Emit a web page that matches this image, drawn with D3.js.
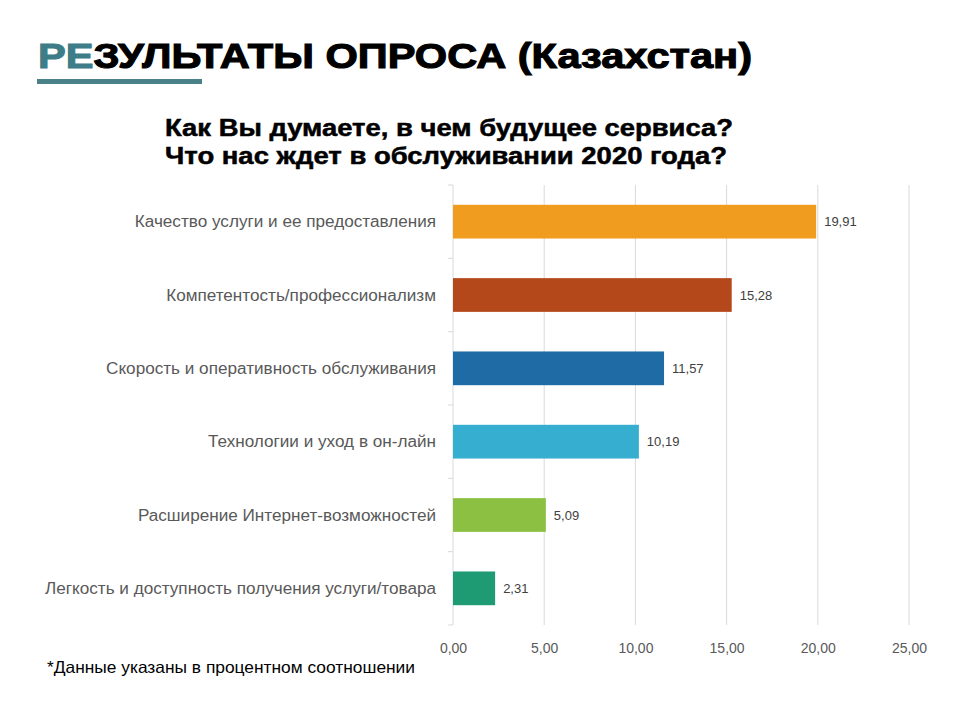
<!DOCTYPE html>
<html><head><meta charset="utf-8">
<script src="https://cdn.jsdelivr.net/npm/d3@7"></script>
<style>body{margin:0;background:#fff}</style>
</head><body>
<svg id="c" width="960" height="720"></svg>
<script>
const categories = [
  "Качество услуги и ее предоставления",
  "Компетентость/профессионализм",
  "Скорость и оперативность обслуживания",
  "Технологии и уход в он-лайн",
  "Расширение Интернет-возможностей ",
  "Легкость и доступность получения услуги/товара"
];
const values = [19.91, 15.28, 11.57, 10.19, 5.09, 2.31];
const colors = ["#F09C1E", "#B5481A", "#1F6BA5", "#35AECF", "#8BC043", "#1F9B74"];
const tickValues = [0, 5, 10, 15, 20, 25];
const titleMain = "ЗУЛЬТАТЫ ОПРОСА (Казахстан)";
const titleAccent = "РЕ";
const subtitle = ["Как Вы думаете, в чем будущее сервиса?", "Что нас ждет в обслуживании 2020 года?"];
const footnote = "*Данные указаны в процентном соотношении";

const FONT = "Liberation Sans, Arial, sans-serif";
const svg = d3.select("#c");
const fmt = v => d3.format(".2f")(v).replace(".", ",");

function fit(sel, target) {
  sel.each(function () {
    const w = this.getComputedTextLength();
    d3.select(this).attr("textLength", w * target).attr("lengthAdjust", "spacingAndGlyphs");
  });
}

const x = d3.scaleLinear().domain([0, 25]).range([453, 909]);
const y = d3.scaleBand().domain(categories).range([185, 625]).paddingInner(0.54).paddingOuter(0.27);

// title
const t = svg.append("text").attr("x", 38).attr("y", 68)
  .attr("font-family", FONT).attr("font-weight", "bold")
  .attr("font-size", 35).attr("textLength", 714).attr("lengthAdjust", "spacingAndGlyphs")
  .attr("stroke-width", 1.1).attr("paint-order", "stroke");
t.append("tspan").attr("fill", "#3E7D87").attr("stroke", "#3E7D87").text(titleAccent);
t.append("tspan").attr("fill", "#000").attr("stroke", "#000").text(titleMain);
svg.append("rect").attr("x", 37).attr("y", 79).attr("width", 165).attr("height", 5).attr("fill", "#4A8088");

const subW = [568, 562];
subtitle.forEach((s, i) => {
  svg.append("text").attr("x", 165).attr("y", 136 + i * 28)
    .attr("font-family", FONT).attr("font-weight", "bold")
    .attr("font-size", 23).attr("fill", "#000").attr("stroke", "#000").attr("stroke-width", 0.5)
    .attr("textLength", subW[i]).attr("lengthAdjust", "spacingAndGlyphs").text(s);
});

// grid
svg.append("g").selectAll("line").data(tickValues).join("line")
  .attr("x1", d => x(d)).attr("x2", d => x(d)).attr("y1", 185).attr("y2", 625)
  .attr("stroke", "#D9D9D9").attr("stroke-width", 1);

// left axis ticks between categories
const bounds = d3.range(categories.length + 1).map(i => 185 + i * (440 / categories.length));
svg.append("g").selectAll("line").data(bounds).join("line")
  .attr("x1", 448).attr("x2", 453).attr("y1", d => d).attr("y2", d => d)
  .attr("stroke", "#D9D9D9");

// bars
svg.append("g").selectAll("rect").data(values).join("rect")
  .attr("x", x(0)).attr("y", (d, i) => y(categories[i]))
  .attr("width", d => x(d) - x(0)).attr("height", y.bandwidth())
  .attr("fill", (d, i) => colors[i]);

// value labels
svg.append("g").selectAll("text").data(values).join("text")
  .attr("x", d => x(d) + 8).attr("y", (d, i) => y(categories[i]) + y.bandwidth() / 2)
  .attr("dy", "0.35em").attr("font-family", FONT)
  .attr("font-size", 13).attr("fill", "#404040").text(d => fmt(d));

// category labels
const cl = svg.append("g").selectAll("text").data(categories).join("text")
  .attr("x", 436).attr("y", d => y(d) + y.bandwidth() / 2).attr("dy", "0.35em")
  .attr("text-anchor", "end").attr("font-family", FONT)
  .attr("font-size", 16).attr("fill", "#595959").text(d => d);
let maxW = 0;
cl.each(function () { maxW = Math.max(maxW, this.getComputedTextLength()); });
fit(cl, 391 / maxW);

// x axis labels
const xa = svg.append("g").attr("transform", "translate(0,640)")
  .call(d3.axisBottom(x).tickValues(tickValues).tickFormat(fmt).tickSize(0));
xa.select(".domain").remove();
xa.selectAll("text").attr("font-family", FONT)
  .attr("font-size", 14).attr("fill", "#595959");

const fn = svg.append("text").attr("x", 47).attr("y", 673)
  .attr("font-family", FONT).attr("font-size", 16.5)
  .attr("fill", "#000").text(footnote);
fit(fn, 368 / fn.node().getComputedTextLength());
</script>
</body></html>
